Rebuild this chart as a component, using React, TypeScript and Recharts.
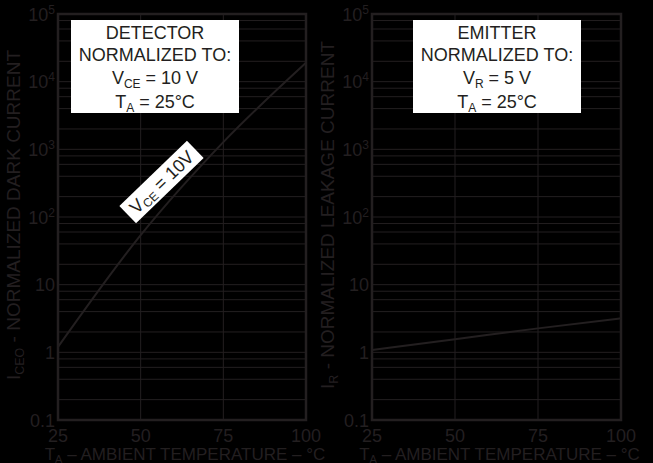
import React from 'react';
import {
  CartesianGrid,
  Line,
  LineChart,
  ReferenceArea,
  ReferenceDot,
  XAxis,
  YAxis,
} from 'recharts';

// values
const temps = [25, 50, 75, 100];
const darkCurrent = [1.2, 54, 1280, 19000];
const leakageCurrent = [1.08, 1.56, 2.26, 3.18];

const xTicks = [25, 50, 75, 100];
const decades = [0.1, 1, 10, 100, 1000, 10000, 100000];
const decadeBase = ['0.1', '1', '10', '10', '10', '10', '10'];
const decadeExp = ['', '', '', '2', '3', '4', '5'];
const yGrid = [
  0.1, 0.2, 0.4, 0.6, 0.8,
  1, 2, 4, 6, 8,
  10, 20, 40, 60, 80,
  100, 200, 400, 600, 800,
  1000, 2000, 4000, 6000, 8000,
  10000, 20000, 40000, 60000, 80000,
  100000,
];

const INK = '#231f20';
const FONT = '"Liberation Sans", Arial, Helvetica, sans-serif';

const detectorData = temps.map((t, i) => ({ t, v: darkCurrent[i] }));
const emitterData = temps.map((t, i) => ({ t, v: leakageCurrent[i] }));

const XTick = ({ x, y, payload }: any) => (
  <text x={x} y={y + 21.5} textAnchor="middle" fill={INK} fontSize={18} fontFamily={FONT}>
    {payload.value}
  </text>
);

const YTick = ({ x, y, payload }: any) => {
  const i = decades.indexOf(payload.value);
  if (i < 0) return <g />;
  return (
    <text x={x - 3} y={y + 6.5} textAnchor="end" fill={INK} fontSize={18} fontFamily={FONT}>
      {decadeBase[i]}
      {decadeExp[i] && (
        <tspan fontSize={12} dy={-7}>
          {decadeExp[i]}
        </tspan>
      )}
    </text>
  );
};

const xTitle = (props: any) => {
  const vb = props.viewBox;
  return (
    <text
      x={vb.x + vb.width / 2 + 3}
      y={vb.y + 40}
      textAnchor="middle"
      fill={INK}
      fontSize={17}
      fontFamily={FONT}
    >
      T
      <tspan fontSize={11} dy={2.5}>A</tspan>
      <tspan dy={-2.5}> – AMBIENT TEMPERATURE – °C</tspan>
    </text>
  );
};

const yTitle = (main: string, sub: string) => (props: any) => {
  const vb = props.viewBox;
  const cx = vb.x + 2;
  const cy = vb.y + vb.height / 2 - 2;
  return (
    <text
      transform={`translate(${cx},${cy}) rotate(-90)`}
      textAnchor="middle"
      fill={INK}
      fontSize={19}
      fontFamily={FONT}
    >
      I
      <tspan fontSize={12.5} dy={4}>{sub}</tspan>
      <tspan dy={-4}>{main}</tspan>
    </text>
  );
};

const VceTag = ({ cx, cy }: any) => (
  <g transform={`translate(${cx},${cy}) rotate(-44)`}>
    <rect x={-47} y={-12} width={94} height={24} fill="#ffffff" />
    <text y={6.5} textAnchor="middle" fill={INK} fontSize={18} fontFamily={FONT}>
      V
      <tspan fontSize={12} dy={3}>CE</tspan>
      <tspan dy={-3}> = 10V</tspan>
    </text>
  </g>
);

const Panel = ({ data, rightMargin, titleMain, titleSub, tag }: any) => (
  <LineChart
    width={326}
    height={463}
    data={data}
    margin={{ top: 14, right: rightMargin, bottom: 13, left: 18 }}
  >
    <CartesianGrid stroke={INK} strokeWidth={1} />
    <XAxis
      dataKey="t"
      type="number"
      domain={[25, 100]}
      ticks={xTicks}
      height={30}
      tickSize={0}
      tickMargin={0}
      axisLine={false}
      tickLine={false}
      tick={<XTick />}
      label={{ content: xTitle }}
    />
    <YAxis
      scale="log"
      domain={[0.1, 100000]}
      allowDataOverflow
      ticks={yGrid}
      interval={0}
      width={40}
      tickSize={0}
      tickMargin={0}
      axisLine={false}
      tickLine={false}
      tick={<YTick />}
      label={{ content: yTitle(titleMain, titleSub) }}
    />
    <ReferenceArea
      x1={25}
      x2={100}
      y1={0.1}
      y2={100000}
      fill="none"
      fillOpacity={0}
      stroke={INK}
      strokeWidth={2.5}
      ifOverflow="visible"
    />
    <Line
      dataKey="v"
      type="monotone"
      stroke={INK}
      strokeWidth={2}
      dot={false}
      isAnimationActive={false}
    />
    {tag && <ReferenceDot x={56.3} y={330} r={0} shape={VceTag} />}
  </LineChart>
);

const boxStyle: React.CSSProperties = {
  position: 'absolute',
  top: 20,
  width: 168,
  height: 93,
  background: '#ffffff',
  color: INK,
  fontFamily: FONT,
  fontSize: 18,
  lineHeight: '22.3px',
  textAlign: 'center',
  paddingTop: 2,
  boxSizing: 'border-box',
};

const subStyle: React.CSSProperties = {
  fontSize: 12,
  position: 'relative',
  top: 4,
};

export default function App() {
  return (
    <div
      style={{
        position: 'absolute',
        left: 0,
        top: 0,
        width: 653,
        height: 463,
        background: '#000000',
        overflow: 'hidden',
      }}
    >
      <div style={{ position: 'absolute', left: 0, top: 0 }}>
        <Panel
          data={detectorData}
          rightMargin={20}
          titleSub="CEO"
          titleMain=" - NORMALIZED DARK CURRENT"
          tag
        />
      </div>
      <div style={{ position: 'absolute', left: 314, top: 0 }}>
        <Panel
          data={emitterData}
          rightMargin={19}
          titleSub="R"
          titleMain=" - NORMALIZED LEAKAGE CURRENT"
        />
      </div>
      <div style={{ ...boxStyle, left: 71 }}>
        DETECTOR
        <br />
        NORMALIZED TO:
        <br />
        V<span style={subStyle}>CE</span> = 10 V
        <br />
        T<span style={subStyle}>A</span> = 25°C
      </div>
      <div style={{ ...boxStyle, left: 413 }}>
        EMITTER
        <br />
        NORMALIZED TO:
        <br />
        V<span style={subStyle}>R</span> = 5 V
        <br />
        T<span style={subStyle}>A</span> = 25°C
      </div>
    </div>
  );
}
